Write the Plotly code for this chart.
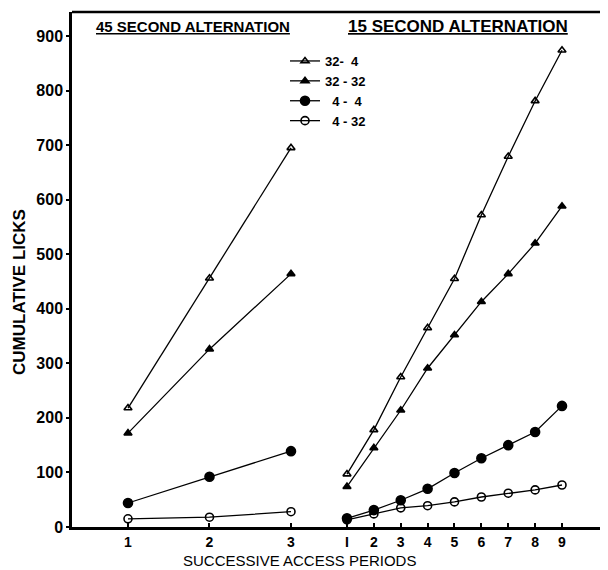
import plotly.graph_objects as go

# Data
series_names = ["32-\u00a0\u00a04", "32\u00a0-\u00a032", "\u00a0\u00a04\u00a0-\u00a0\u00a04", "\u00a0\u00a04\u00a0-\u00a032"]
periods_45 = [1, 2, 3]
periods_15 = [1, 2, 3, 4, 5, 6, 7, 8, 9]
licks_45_32_4 = [218, 456, 695]
licks_45_32_32 = [172, 326, 464]
licks_45_4_4 = [44, 92, 139]
licks_45_4_32 = [15, 18, 28]
licks_15_32_4 = [97, 178, 275, 365, 455, 572, 679, 781, 874]
licks_15_32_32 = [74, 145, 214, 291, 352, 413, 464, 520, 588]
licks_15_4_4 = [16, 31, 49, 70, 99, 126, 150, 174, 222]
licks_15_4_32 = [13, 24, 35, 39, 46, 55, 62, 68, 77]
licks_45 = [licks_45_32_4, licks_45_32_32, licks_45_4_4, licks_45_4_32]
licks_15 = [licks_15_32_4, licks_15_32_32, licks_15_4_4, licks_15_4_32]
y_ticks = [0, 100, 200, 300, 400, 500, 600, 700, 800, 900]
x_ticks_45 = ["1", "2", "3"]
x_ticks_15 = ["I", "2", "3", "4", "5", "6", "7", "8", "9"]

marker_styles = [("triangle-up-open", 7), ("triangle-up", 7), ("circle", 9), ("circle-open", 8)]

FONT = "Liberation Sans"
# page body has an 8px default margin; figure is sized to fill the rest
W, H = 600, 562
L, T, R, B = 64, 4, 3, 43
PW, PH = W - L - R, H - T - B

def px_x(p):  # page pixel -> paper fraction
    return (p - 8 - L) / PW

def px_y(p):
    return (H - B - (p - 8)) / PH

fig = go.Figure()
for name, ys, (sym, sz) in zip(series_names, licks_45, marker_styles):
    fig.add_trace(go.Scatter(
        x=periods_45, y=ys, mode="lines+markers",
        line=dict(color="black", width=1.3),
        marker=dict(symbol=sym, size=sz, color="black", line=dict(width=1.6, color="black")),
        xaxis="x", yaxis="y", showlegend=False, cliponaxis=False, name=name))
for name, ys, (sym, sz) in zip(series_names, licks_15, marker_styles):
    fig.add_trace(go.Scatter(
        x=periods_15, y=ys, mode="lines+markers",
        line=dict(color="black", width=1.3),
        marker=dict(symbol=sym, size=sz, color="black", line=dict(width=1.6, color="black")),
        xaxis="x2", yaxis="y", showlegend=True, cliponaxis=False, name=name))

split = px_x(320)
fig.update_layout(
    width=W, height=H,
    margin=dict(l=L, r=R, t=T, b=B, autoexpand=False),
    paper_bgcolor="white", plot_bgcolor="white",
    font=dict(family=FONT, color="black"),
    xaxis=dict(domain=[0, split], range=[0.313, 3.356], tickvals=periods_45, ticktext=x_ticks_45,
               showline=True, linecolor="black", linewidth=2.5, ticks="inside", ticklen=4,
               tickwidth=1.5, tickcolor="black", showgrid=False, zeroline=False, automargin=False,
               tickfont=dict(size=14, family=FONT, weight="bold")),
    xaxis2=dict(domain=[split, 1], range=[-0.004, 10.6], tickvals=periods_15, ticktext=x_ticks_15,
                showline=True, linecolor="black", linewidth=2.5, ticks="inside", ticklen=4,
                tickwidth=1.5, tickcolor="black", showgrid=False, zeroline=False, anchor="y",
                automargin=False, tickfont=dict(size=14, family=FONT, weight="bold")),
    yaxis=dict(range=[0, 944], tickvals=y_ticks, showline=True, linecolor="black", linewidth=2.5,
               ticks="outside", ticklen=3, tickwidth=1.5, tickcolor="black", showgrid=False,
               zeroline=False, automargin=False, tickfont=dict(size=16, family=FONT, weight="bold")),
    legend=dict(x=px_x(285), y=px_y(46), xanchor="left", yanchor="top", bgcolor="rgba(0,0,0,0)",
                font=dict(size=13, family=FONT, weight="bold"), tracegroupgap=0, itemwidth=30),
    showlegend=True,
)
fig.add_annotation(text="CUMULATIVE LICKS", xref="paper", yref="paper", textangle=-90,
                   x=px_x(19), y=px_y(292), showarrow=False, xanchor="center", yanchor="middle",
                   font=dict(size=17, family=FONT, weight="bold"))
fig.add_annotation(text="<u>45 SECOND ALTERNATION</u>", xref="paper", yref="paper",
                   x=px_x(193), y=px_y(27), showarrow=False,
                   xanchor="center", yanchor="middle",
                   font=dict(size=15, family=FONT, weight="bold"))
fig.add_annotation(text="<u>15 SECOND ALTERNATION</u>", xref="paper", yref="paper",
                   x=px_x(458), y=px_y(27), showarrow=False,
                   xanchor="center", yanchor="middle",
                   font=dict(size=17, family=FONT, weight="bold"))
fig.add_annotation(text="SUCCESSIVE ACCESS PERIODS", xref="paper", yref="paper",
                   x=px_x(299), y=px_y(560), showarrow=False,
                   xanchor="center", yanchor="middle",
                   font=dict(size=15, family=FONT))
fig.add_shape(type="line", xref="paper", yref="paper", x0=0, x1=1.01, y0=1, y1=1,
              line=dict(color="black", width=2.5))
fig.write_html("out.html")
